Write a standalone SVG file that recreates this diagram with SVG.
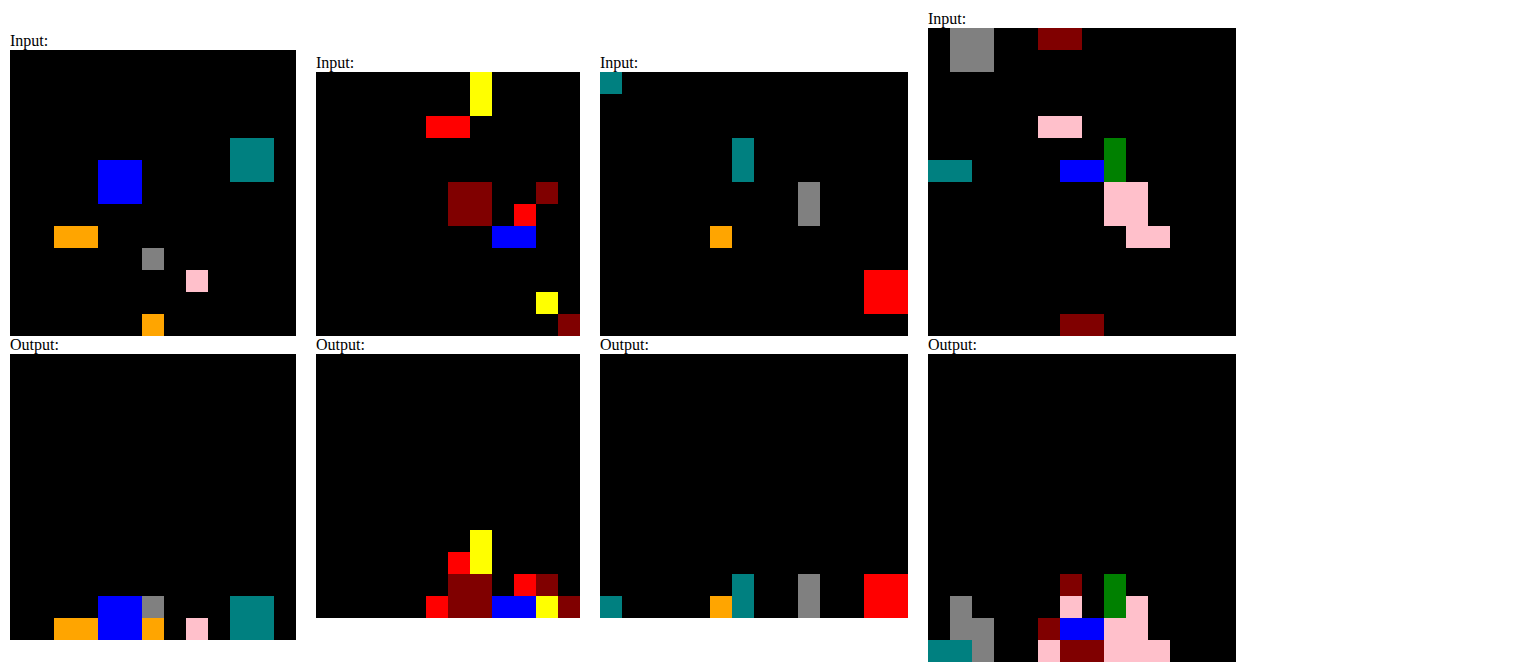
<svg xmlns="http://www.w3.org/2000/svg" width="1520" height="672" viewBox="0 0 1520 672">
<style>
text{font-family:"Liberation Serif","Times New Roman",serif;font-size:16px;fill:#000}
.k{fill:#000}.tl{fill:#008080}.bl{fill:#0000ff}.or{fill:#ffa500}.gy{fill:#808080}.pk{fill:#ffc0cb}.mr{fill:#800000}.rd{fill:#ff0000}.yl{fill:#ffff00}.gn{fill:#008000}
</style>
<rect width="1520" height="672" fill="#fff"/>
<g id="ex1-input">
<text x="10" y="46">Input:</text>
<rect class="k" x="10" y="50" width="286" height="286"/>
<rect class="tl" x="230" y="138" width="44" height="44"/>
<rect class="bl" x="98" y="160" width="44" height="44"/>
<rect class="or" x="54" y="226" width="44" height="22"/>
<rect class="gy" x="142" y="248" width="22" height="22"/>
<rect class="pk" x="186" y="270" width="22" height="22"/>
<rect class="or" x="142" y="314" width="22" height="22"/>
</g>
<g id="ex1-output">
<text x="10" y="350">Output:</text>
<rect class="k" x="10" y="354" width="286" height="286"/>
<rect class="bl" x="98" y="596" width="44" height="44"/>
<rect class="gy" x="142" y="596" width="22" height="22"/>
<rect class="or" x="54" y="618" width="44" height="22"/>
<rect class="or" x="142" y="618" width="22" height="22"/>
<rect class="pk" x="186" y="618" width="22" height="22"/>
<rect class="tl" x="230" y="596" width="44" height="44"/>
</g>
<g id="ex2-input">
<text x="316" y="68">Input:</text>
<rect class="k" x="316" y="72" width="264" height="264"/>
<rect class="yl" x="470" y="72" width="22" height="44"/>
<rect class="rd" x="426" y="116" width="44" height="22"/>
<rect class="mr" x="448" y="182" width="44" height="44"/>
<rect class="mr" x="536" y="182" width="22" height="22"/>
<rect class="rd" x="514" y="204" width="22" height="22"/>
<rect class="bl" x="492" y="226" width="44" height="22"/>
<rect class="yl" x="536" y="292" width="22" height="22"/>
<rect class="mr" x="558" y="314" width="22" height="22"/>
</g>
<g id="ex2-output">
<text x="316" y="350">Output:</text>
<rect class="k" x="316" y="354" width="264" height="264"/>
<rect class="yl" x="470" y="530" width="22" height="44"/>
<rect class="rd" x="448" y="552" width="22" height="22"/>
<rect class="mr" x="448" y="574" width="44" height="44"/>
<rect class="rd" x="514" y="574" width="22" height="22"/>
<rect class="mr" x="536" y="574" width="22" height="22"/>
<rect class="rd" x="426" y="596" width="22" height="22"/>
<rect class="bl" x="492" y="596" width="44" height="22"/>
<rect class="yl" x="536" y="596" width="22" height="22"/>
<rect class="mr" x="558" y="596" width="22" height="22"/>
</g>
<g id="ex3-input">
<text x="600" y="68">Input:</text>
<rect class="k" x="600" y="72" width="308" height="264"/>
<rect class="tl" x="600" y="72" width="22" height="22"/>
<rect class="tl" x="732" y="138" width="22" height="44"/>
<rect class="gy" x="798" y="182" width="22" height="44"/>
<rect class="or" x="710" y="226" width="22" height="22"/>
<rect class="rd" x="864" y="270" width="44" height="44"/>
</g>
<g id="ex3-output">
<text x="600" y="350">Output:</text>
<rect class="k" x="600" y="354" width="308" height="264"/>
<rect class="tl" x="600" y="596" width="22" height="22"/>
<rect class="or" x="710" y="596" width="22" height="22"/>
<rect class="tl" x="732" y="574" width="22" height="44"/>
<rect class="gy" x="798" y="574" width="22" height="44"/>
<rect class="rd" x="864" y="574" width="44" height="44"/>
</g>
<g id="ex4-input">
<text x="928" y="24">Input:</text>
<rect class="k" x="928" y="28" width="308" height="308"/>
<rect class="gy" x="950" y="28" width="44" height="44"/>
<rect class="mr" x="1038" y="28" width="44" height="22"/>
<rect class="pk" x="1038" y="116" width="44" height="22"/>
<rect class="gn" x="1104" y="138" width="22" height="44"/>
<rect class="tl" x="928" y="160" width="44" height="22"/>
<rect class="bl" x="1060" y="160" width="44" height="22"/>
<rect class="pk" x="1104" y="182" width="44" height="44"/>
<rect class="pk" x="1126" y="226" width="44" height="22"/>
<rect class="mr" x="1060" y="314" width="44" height="22"/>
</g>
<g id="ex4-output">
<text x="928" y="350">Output:</text>
<rect class="k" x="928" y="354" width="308" height="308"/>
<rect class="mr" x="1060" y="574" width="22" height="22"/>
<rect class="gn" x="1104" y="574" width="22" height="44"/>
<rect class="gy" x="950" y="596" width="22" height="44"/>
<rect class="gy" x="972" y="618" width="22" height="44"/>
<rect class="pk" x="1060" y="596" width="22" height="22"/>
<rect class="pk" x="1126" y="596" width="22" height="22"/>
<rect class="mr" x="1038" y="618" width="22" height="22"/>
<rect class="bl" x="1060" y="618" width="44" height="22"/>
<rect class="pk" x="1104" y="618" width="44" height="22"/>
<rect class="tl" x="928" y="640" width="44" height="22"/>
<rect class="pk" x="1038" y="640" width="22" height="22"/>
<rect class="mr" x="1060" y="640" width="44" height="22"/>
<rect class="pk" x="1104" y="640" width="66" height="22"/>
</g>
<g id="connectors"/>
</svg>
